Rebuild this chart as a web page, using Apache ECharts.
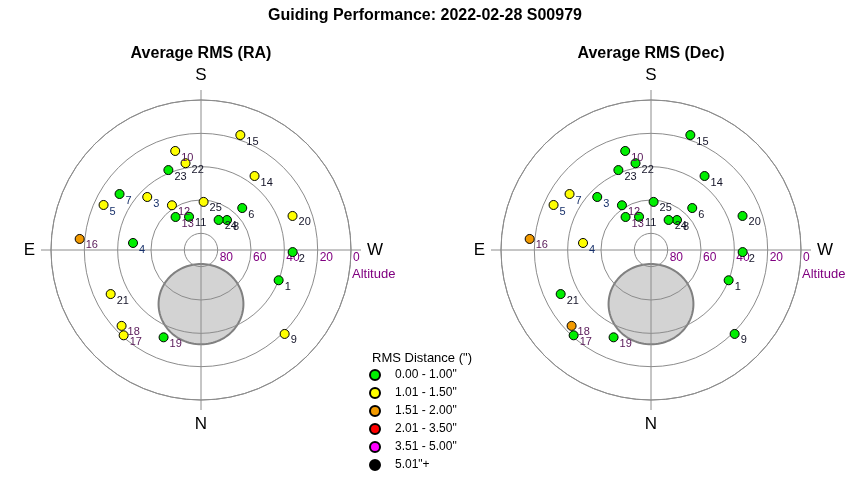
<!DOCTYPE html>
<html>
<head>
<meta charset="utf-8">
<script src="https://cdn.jsdelivr.net/npm/echarts@6/dist/echarts.min.js"></script>
<style>html,body{margin:0;padding:0;background:#fff}#c{width:850px;height:480px}</style>
</head>
<body>
<div id="c"></div>
<script>
// ---------------- data ----------------
const mainTitle = 'Guiding Performance: 2022-02-28 S00979';
const panelTitles = ['Average RMS (RA)', 'Average RMS (Dec)'];
const pointIds = ['1','2','3','4','5','6','7','8','9','10','11','12','13','14','15','16','17','18','19','20','21','22','23','24','25'];
const azimuth  = [291.3, 271.3, 134.6, 95.9, 114.8, 224.5, 124.5, 220.9, 315.1, 165.4, 160.2, 147.0, 142.4, 215.9, 198.9, 95.2, 42.2, 46.3, 23.2, 249.6, 64.0, 169.9, 157.8, 210.4, 183.1];
const altitude = [40.0, 35.0, 44.7, 49.0, 25.6, 54.7, 30.7, 66.2, 18.9, 28.6, 68.8, 58.0, 65.0, 35.2, 17.1, 16.9, 20.9, 24.1, 33.0, 31.4, 29.7, 37.1, 38.2, 69.1, 61.1];
// RMS bin index per point (0..5)
const raBin  = [0,0,1,0,1,0,0,0,1,1,0,1,0,1,1,2,1,1,0,1,1,1,0,0,1];
const decBin = [0,0,0,1,1,0,1,0,0,0,0,0,0,0,0,2,0,2,0,0,0,0,0,0,0];
// label tone per point (0 dark, 1 navy, 2 purple)
const labelTone = [0,0,1,1,1,0,1,0,0,2,0,2,2,0,0,2,2,2,2,0,0,0,0,0,0];
const rmsBins = ['0.00 - 1.00"', '1.01 - 1.50"', '1.51 - 2.00"', '2.01 - 3.50"', '3.51 - 5.00"', '5.01"+'];
const legendTitle = 'RMS Distance (")';
const altitudeTicks = [0, 20, 40, 60, 80];
const compassAz = [0, 90, 180, 270];
const compassNames = ['N', 'E', 'S', 'W'];
const altitudeName = 'Altitude';
// excluded zone around the pole: centre altitude/azimuth and angular radius (deg)
const poleZoneCentre = [57.5, 0];
const poleZoneRadius = [24.1];

// ---------------- style ----------------
const FONT = 'Liberation Sans';
const binColors = ['#00ee00', '#ffff00', '#f29a00', '#ff0000', '#ff00ff', '#000000'];
const toneColors = ['#141428', '#17306a', '#581858'];
const gridColor = '#8c8c8c';
const centers = [[201, 250], [651, 250]];
const R = 150;

const chart = echarts.init(document.getElementById('c'), null, {renderer: 'canvas'});

const polar = [];
const angleAxis = [];
const radiusAxis = [];
centers.forEach((c, i) => {
  polar.push({center: c, radius: R});
  angleAxis.push({
    polarIndex: i, type: 'value', min: 0, max: 360, interval: 90,
    startAngle: 270, clockwise: true,
    axisLine: {show: true, lineStyle: {color: gridColor, width: 1}},
    axisTick: {show: true, inside: false, length: 10, lineStyle: {color: gridColor, width: 1}},
    axisLabel: {
      show: true, margin: 16, fontSize: 17, color: '#000', fontFamily: FONT,
      formatter: v => { const k = compassAz.indexOf(v); return (k >= 0 && v < 360) ? compassNames[k] : ''; }
    },
    splitLine: {show: true, lineStyle: {color: gridColor, width: 1}},
    splitArea: {show: false}
  });
  radiusAxis.push({
    polarIndex: i, type: 'value', min: 0, max: 90, interval: 20, inverse: true,
    axisLine: {show: false}, axisTick: {show: false}, axisLabel: {show: false},
    splitLine: {show: true, lineStyle: {color: gridColor, width: 1}},
    splitArea: {show: false}
  });
});
// overlay polars only for the altitude labels along the W direction
centers.forEach((c, i) => {
  polar.push({center: c, radius: R});
  angleAxis.push({
    polarIndex: 2 + i, type: 'value', min: 0, max: 360, startAngle: 0,
    axisLine: {show: false}, axisTick: {show: false}, axisLabel: {show: false},
    splitLine: {show: false}
  });
  radiusAxis.push({
    polarIndex: 2 + i, type: 'value', min: 0, max: 90, interval: 20, inverse: true,
    axisLine: {show: false}, axisTick: {show: false}, splitLine: {show: false},
    axisLabel: {
      show: true, color: '#800080', fontSize: 12, fontFamily: FONT,
      align: 'left', verticalAlign: 'top', margin: -2, padding: [0, 0, 0, 2],
      formatter: v => altitudeTicks.indexOf(v) >= 0 ? String(v) : ''
    }
  });
});

function poleZoneRender(params, api) {
  const phi = api.value(0) * Math.PI / 180;
  const az0 = api.value(1) * Math.PI / 180;
  const rho = poleZoneRadius[0] * Math.PI / 180;
  const P = [Math.cos(phi), 0, Math.sin(phi)];
  const U = [-Math.sin(phi), 0, Math.cos(phi)];
  const V = [0, 1, 0];
  const pts = [];
  for (let s = 0; s < 120; s++) {
    const t = s / 120 * 2 * Math.PI;
    const v = [0, 1, 2].map(j => Math.cos(rho) * P[j] + Math.sin(rho) * (Math.cos(t) * U[j] + Math.sin(t) * V[j]));
    const alt = Math.asin(v[2]) * 180 / Math.PI;
    let az = (Math.atan2(v[1], v[0]) + az0) * 180 / Math.PI;
    az = (az + 360) % 360;
    pts.push(api.coord([alt, az]));
  }
  return {type: 'polygon', shape: {points: pts}, style: {fill: '#d3d3d3', stroke: '#808080', lineWidth: 2}};
}

const series = [];
[raBin, decBin].forEach((bins, c) => {
  series.push({
    type: 'custom', coordinateSystem: 'polar', polarIndex: c, z: -1, silent: true,
    data: [poleZoneCentre], renderItem: poleZoneRender
  });
  rmsBins.forEach((name, k) => {
    const data = [];
    bins.forEach((b, i) => {
      if (b === k) data.push({
        name: pointIds[i],
        value: [altitude[i], azimuth[i]],
        label: {color: toneColors[labelTone[i]]}
      });
    });
    series.push({
      type: 'scatter', name: name, coordinateSystem: 'polar', polarIndex: c,
      symbol: 'circle', symbolSize: 9,
      itemStyle: {color: binColors[k], borderColor: '#000', borderWidth: 1, opacity: 1},
      label: {
        show: true, formatter: p => p.name, position: [11, 11.5],
        align: 'left', verticalAlign: 'middle', fontSize: 11, fontFamily: FONT
      },
      emphasis: {disabled: true},
      data: data
    });
  });
});

chart.setOption({
  animation: false,
  backgroundColor: '#fff',
  textStyle: {fontFamily: FONT},
  title: [
    {text: mainTitle, left: 425, textAlign: 'center', top: 8, padding: 0,
      textStyle: {fontSize: 16, fontWeight: 'bold', color: '#000', fontFamily: FONT}},
    {text: panelTitles[0], left: centers[0][0], textAlign: 'center', top: 46, padding: 0,
      textStyle: {fontSize: 16, fontWeight: 'bold', color: '#000', fontFamily: FONT}},
    {text: panelTitles[1], left: centers[1][0], textAlign: 'center', top: 46, padding: 0,
      textStyle: {fontSize: 16, fontWeight: 'bold', color: '#000', fontFamily: FONT}},
    {text: altitudeName, left: centers[0][0] + R + 1, top: 268, padding: 0,
      textStyle: {fontSize: 13, fontWeight: 'normal', color: '#800080', fontFamily: FONT}},
    {text: altitudeName, left: centers[1][0] + R + 1, top: 268, padding: 0,
      textStyle: {fontSize: 13, fontWeight: 'normal', color: '#800080', fontFamily: FONT}},
    {text: legendTitle, left: 372, top: 352, padding: 0,
      textStyle: {fontSize: 13, fontWeight: 'normal', color: '#000', fontFamily: FONT}}
  ],
  legend: {
    data: rmsBins, orient: 'vertical', left: 364, top: 364, padding: 5,
    itemWidth: 30, itemHeight: 10, itemGap: 6, icon: 'circle', selectedMode: false,
    textStyle: {fontSize: 12, color: '#000', fontFamily: FONT}
  },
  polar: polar,
  angleAxis: angleAxis,
  radiusAxis: radiusAxis,
  series: series
});
</script>
</body>
</html>
